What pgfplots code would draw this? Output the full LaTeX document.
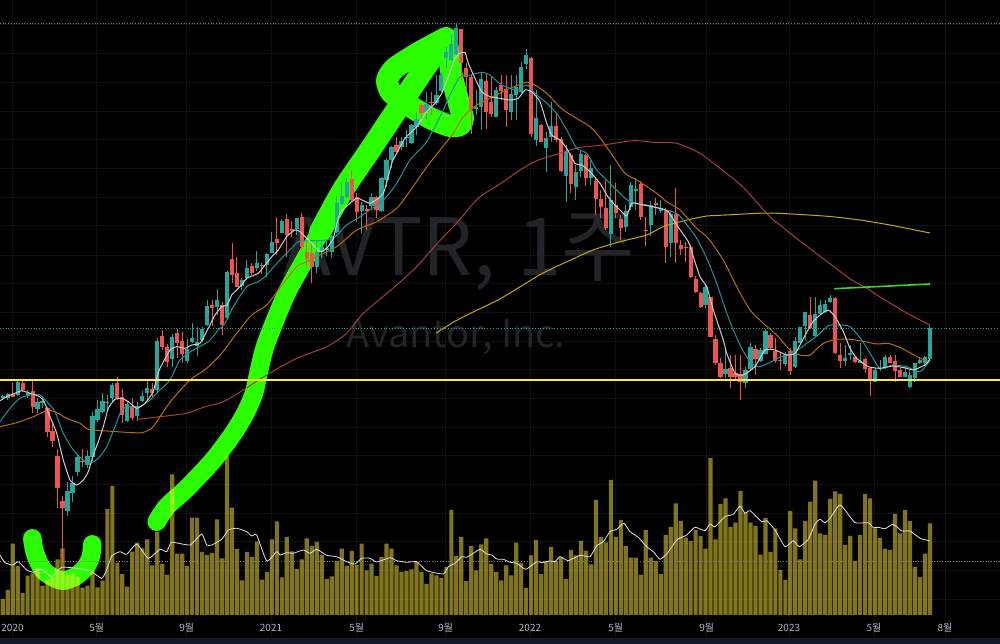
\documentclass[border=0pt]{standalone}
\usepackage{pgfplots}
\usepackage{pgfplotstable}
\usepackage{fontspec}
\pgfplotsset{compat=1.18}
\setmainfont{Noto Sans CJK KR}
\definecolor{upc}{HTML}{26A69A}
\definecolor{dnc}{HTML}{EF5350}
\definecolor{grn}{HTML}{2CFF00}
\definecolor{volc}{HTML}{FFEB3B}
\definecolor{gridc}{HTML}{101010}
\definecolor{mawhite}{HTML}{CFCFCF}
\definecolor{mateal}{HTML}{23919A}
\definecolor{maorange}{HTML}{B86E00}
\definecolor{mared}{HTML}{A63C3C}
\definecolor{mayellow}{HTML}{BFA81F}
\definecolor{wm}{HTML}{232428}
\definecolor{strip}{HTML}{131A26}
\definecolor{ticktxt}{HTML}{B2B5BE}
\pgfplotstableread[row sep=\\]{
i top bot hi lo\\
0 396 398.3 395 399\\ 1 394 398 392.7 400\\ 3 382 395 380 396\\ 5 392.7 396 390 398.3\\
7 401.7 409 398.3 413.3\\ 8 400.7 402.7 396.7 408.3\\ 13 491 511 481.7 515.7\\ 14 482.7 492.7 476 501.7\\
15 456.7 472.3 455 476\\ 17 456 465 450 468.3\\ 18 416 457.3 411.7 460.7\\ 19 409.3 420 400 421.7\\
20 401 412.3 392.7 413.3\\ 21 401.7 402.3 395 411.7\\ 22 385 398.3 382.7 401.7\\ 25 404.3 420.7 401.7 421.7\\
27 406 416 401.7 420.7\\ 28 396 400.7 390.7 401.7\\ 29 388.3 393.3 380 401.7\\ 31 340.7 390 338.3 391.7\\
34 337.3 359.3 334.3 366.7\\ 37 349.3 361 339.3 363.3\\ 38 338.3 341.7 322.7 343.3\\ 39 341.7 346 326.7 356\\
40 329 340 326.7 341.7\\ 41 306 325 300 326\\ 43 300 306.7 289.3 315\\ 45 271.7 318.3 270.7 320\\
48 280 286 278.3 290\\ 49 268.3 278.3 260 280\\ 51 262.7 268.3 251 271\\ 53 254.3 265 252.7 276.7\\
54 241.7 252.7 232.3 253.3\\ 56 220.7 232.7 219.3 233.3\\ 59 218 229.3 217.7 235\\ 63 252 267 241.7 273.3\\
64 247 252 240 258\\ 65 248 250 241 256\\ 66 236 252 235 258\\ 67 203 232.5 196 233.5\\
68 196 204 183 205\\ 69 181.7 196.7 178 198\\ 72 205 210.7 201.7 233\\ 74 196.7 206 193 210\\
76 178 210.7 176.7 211.7\\ 77 160 180 158 186.7\\ 78 146.7 160 146 168\\ 80 140.7 147.3 136.7 150\\
81 136.7 138 130 146.7\\ 82 125 142.7 124 144\\ 83 118.7 127.3 111.7 135\\ 85 104.3 111.7 91.7 119\\
87 95 103.3 75 105\\ 88 75 90.7 71.7 91.7\\ 89 51.7 58.3 46.7 68\\ 90 44 60 35 60.7\\
91 28.3 54 23.3 55\\ 95 107.3 109.3 90 115\\ 96 79 106.7 73 130\\ 99 90 116.7 86.7 117\\
102 94 111.7 75 120\\ 103 86.7 95.5 75 120\\ 104 67 92.5 61.7 93.3\\ 105 55 64.3 49.3 69.3\\
107 117.7 140 90 146\\ 109 137.7 148.3 131.7 171.7\\ 110 126 136.7 101.7 142\\ 113 151 176 145 201.7\\
115 171.7 186.7 165 200\\ 116 154 170.7 150 176.7\\ 118 168 178.5 158 185\\ 122 200 234 165 246.7\\
125 210.7 226.7 205 231.7\\ 126 185 206.7 181.7 210\\ 127 189.3 190.7 178 210\\ 130 205 225 200.7 236\\
132 207.7 210.7 200 213\\ 134 214 242.7 211.7 257\\ 141 286.7 305 285 308.3\\ 145 369 374 350 378\\
149 370 382.7 366.7 388\\ 150 347.3 369 343 370\\ 152 350 361 348 362.3\\ 153 331 354 329 354.3\\
157 355 364 351.7 366\\ 159 340.7 367.3 337 368.3\\ 160 327.3 342.7 326.7 343.5\\ 161 312.3 325.7 311.7 340\\
163 314 336 296.7 337\\ 164 305.3 314 300 315\\ 165 304 312.3 300 313.3\\ 166 297.7 301.7 295 303.3\\
169 358 360.7 345 366\\ 170 353 354.7 345 360\\ 172 361 362.7 342.7 363.3\\ 175 370 381.7 368.3 382\\
176 368 369.3 360 370.7\\ 177 357.3 368.3 355 369.3\\ 181 371.7 376.7 367.3 377.3\\ 182 375 386.7 370 387.7\\
183 363.3 377.7 362.7 381.7\\ 184 360 363.3 357.3 364\\ 185 357.3 363.3 356 365\\ 186 328.3 359.3 324.3 360\\
}\upw
\pgfplotstableread[row sep=\\]{
i top bot hi lo\\
2 394 396.7 383.3 397.3\\ 4 383.3 390 379.3 391.7\\ 6 391 406.7 380 413.3\\ 9 408.3 431.7 407.3 436.7\\
10 431 441 423.3 446.7\\ 11 455.7 487.7 449.3 508\\ 12 501 507.7 496 563\\ 16 460.7 461.3 449.3 466.7\\
23 383.3 398.3 377.3 400\\ 24 397.3 415 389.3 422.7\\ 26 406 417.7 398.3 420\\ 30 388.7 393.3 382.7 398.3\\
32 336 347.3 330 350\\ 33 346.7 361.7 344 366.7\\ 35 333.3 343.3 329.3 358.3\\ 36 340.7 354 331.7 362.7\\
42 304.7 308 300 326\\ 44 304.7 325 301.7 335\\ 46 259.3 275 242.7 283.3\\ 47 272.7 286.7 257.3 287.3\\
50 266 272.7 263.3 275\\ 52 265.5 266.5 263.3 274\\ 55 239 243.3 217.3 255\\ 57 219 235 214 256.7\\
58 229 231 220.7 236.7\\ 60 217.3 247.3 212.7 250\\ 61 252.3 259.3 241.7 268.3\\ 62 252.7 267 243.3 283.3\\
70 179 200 170 201.7\\ 71 197 211.7 193 221.7\\ 73 209 211 205 230\\ 75 196.7 210 196 218\\
79 145 152 137 153\\ 84 105 113.3 103 120\\ 86 102 103.3 91.7 115\\ 92 29.3 63.3 29 80\\
93 68.3 76.7 63 90.7\\ 94 76.7 109 75 134\\ 97 81.3 111.7 73 129\\ 98 102.3 114 76.7 116.7\\
100 85 91 75 100\\ 101 89 110 75 127\\ 106 57.7 134.3 57.3 136.7\\ 108 125 141.7 124 142\\
111 126 140 112.7 141.7\\ 112 139.3 171 136.7 172\\ 114 155 184 153 193\\ 117 155 178 154 185.7\\
119 181 199 178 215\\ 120 199 207 190 218\\ 121 208 227.7 180 230\\ 123 205 213.3 183 218\\
124 219 228 215 240\\ 128 184 216.7 180.7 220\\ 129 230 231 217 246\\ 131 202.7 205.3 198 215\\
133 210.7 247.3 208 263\\ 135 214 242.7 188 263\\ 136 245 249 240 255\\ 137 247.3 248.3 241.7 261.7\\
138 247.3 277.3 245 278\\ 139 279.3 291.7 276 292.7\\ 140 293.3 307.3 291.7 308.3\\ 142 297.3 336.7 296.7 337\\
143 339 363.3 335 365\\ 144 362.7 377.3 358.3 378.3\\ 146 368.3 377.3 355 388\\ 147 372.7 376.7 355 380\\
148 374 382.3 355 400\\ 151 349 359 345 375\\ 154 335 348.3 333 350\\ 155 350.7 361 338 363.3\\
156 360 360.7 353 370\\ 158 350.7 370.7 348 375\\ 162 314.7 328.3 296.7 328.8\\ 167 297.7 353.3 297.2 354\\
168 355 361 343 368.3\\ 171 356.7 361.7 355.7 362.7\\ 173 359.3 369 358 373.3\\ 174 368.3 379.3 366.7 396\\
178 356.7 362.7 355 363.3\\ 179 361 370.7 355 381.7\\ 180 370 376.7 368.3 377.3\\
}\dnw
\pgfplotstableread[row sep=\\]{
i top\\
0 599\\ 1 590\\ 2 543.7\\ 3 566\\ 4 593\\ 5 575.7\\ 6 573.3\\ 7 568.3\\ 8 585.7\\ 9 580\\ 10 576.7\\ 11 559.3\\ 12 548.3\\ 13 575\\ 14 573.3\\ 15 576.7\\
16 587.7\\ 17 585.7\\ 18 570.7\\ 19 587.3\\ 20 580.7\\ 21 509\\ 22 486\\ 23 562.7\\ 24 574\\ 25 586.7\\ 26 551.7\\ 27 542.7\\ 28 548.3\\ 29 539.3\\ 30 565.3\\
31 531.7\\ 32 564\\ 33 574.7\\ 34 474.3\\ 35 553.7\\ 36 553.7\\ 37 566\\ 38 517.7\\ 39 517.7\\ 40 552\\ 41 555\\ 42 553\\ 43 519.3\\ 44 558.3\\ 45 456.3\\
46 507.7\\ 47 549\\ 48 580.3\\ 49 552\\ 50 557\\ 51 541.7\\ 52 579.7\\ 53 572\\ 54 539.3\\ 55 521.3\\ 56 577.3\\ 57 537\\ 58 551.3\\ 59 569\\ 60 559.3\\
61 538.3\\ 62 546\\ 63 542\\ 64 555\\ 65 579\\ 66 576.3\\ 67 561\\ 68 548.7\\ 69 566\\ 70 551\\ 71 565\\ 72 543.7\\ 73 570.3\\ 74 563.7\\ 75 576\\
76 557\\ 77 543.7\\ 78 548.7\\ 79 565.3\\ 80 572\\ 81 571\\ 82 569.3\\ 83 562\\ 84 572\\ 85 584\\ 86 573.3\\ 87 575.3\\ 88 578\\ 89 567\\ 90 510\\
91 556\\ 92 537\\ 93 581\\ 94 546\\ 95 570.3\\ 96 544.3\\ 97 538.3\\ 98 563.7\\ 99 572\\ 100 580.3\\ 101 565.3\\ 102 575.3\\ 103 542.7\\ 104 563\\ 105 588\\
106 555.3\\ 107 540\\ 108 574\\ 109 561\\ 110 547\\ 111 561\\ 112 557\\ 113 579\\ 114 550\\ 115 555.3\\ 116 541\\ 117 551\\ 118 564.3\\ 119 500\\ 120 537\\
121 542.3\\ 122 480\\ 123 537\\ 124 520\\ 125 546\\ 126 557.7\\ 127 557.7\\ 128 574.7\\ 129 530\\ 130 557.7\\ 131 561\\ 132 574\\ 133 535\\ 134 527\\ 135 503.3\\
136 521\\ 137 537.7\\ 138 541\\ 139 530\\ 140 536\\ 141 548.7\\ 142 458\\ 143 539.3\\ 144 504\\ 145 498.3\\ 146 527\\ 147 522.7\\ 148 491\\ 149 512.3\\ 150 522.7\\
151 526\\ 152 554.7\\ 153 518\\ 154 552\\ 155 528.3\\ 156 570\\ 157 580\\ 158 511\\ 159 528.3\\ 160 559.3\\ 161 521\\ 162 501.7\\ 163 480.7\\ 164 533.3\\ 165 535\\
166 499\\ 167 491.3\\ 168 494\\ 169 545\\ 170 536\\ 171 561\\ 172 535\\ 173 494\\ 174 498.3\\ 175 528.3\\ 176 538\\ 177 548.7\\ 178 550\\ 179 514\\ 180 533.3\\
181 510\\ 182 521\\ 183 567\\ 184 577\\ 185 553.7\\ 186 523.3\\
}\vols
\pgfplotstableread[row sep=\\]{
x y\\
0 555\\ 5 562.7\\ 12.7 565\\ 18.3 561.7\\ 26.7 570\\ 33.3 572.3\\ 41.7 569.3\\ 51.7 576.7\\ 61.7 567.3\\ 76.7 568.3\\ 90 570.7\\ 101.7 578.3\\ 106.7 570\\ 111.7 556\\ 120 551.7\\ 126.7 554.3\\ 136.7 544\\ 148.3 558.3\\ 160 549.3\\ 166.7 551.7\\ 171.7 542.3\\ 190 545\\ 201.7 534\\ 206.7 545\\ 211.7 545\\ 221.7 539.3\\ 228.3 530\\ 236.7 528.3\\ 246.7 531.7\\ 251.7 536\\ 256.7 535\\ 266.7 561\\ 276.7 551.7\\ 280 555\\ 286.7 552.7\\ 293.3 553.3\\ 303.3 550\\ 310 553.3\\ 316.7 549.3\\ 326.7 555.3\\ 336.7 556.7\\ 346.7 561.7\\ 355 564\\ 361.7 558.3\\ 370 558.3\\ 376.7 562\\ 390 557.7\\ 396.7 560.7\\ 406.7 562.3\\ 416.7 561.7\\ 426.7 570.7\\ 443.3 574\\ 448.3 566.7\\ 455 563.3\\ 461.7 556.7\\ 466.7 557.3\\ 473.3 553.3\\ 480 549.3\\ 486.7 554\\ 491.7 555\\ 496.7 559\\ 503.3 559.3\\ 510 562.3\\ 516.7 563.3\\ 525.7 569.3\\ 536.7 561.7\\ 541.7 562.7\\ 550 561\\ 555 561.7\\ 560 556.7\\ 568.3 560.7\\ 580 555.3\\ 590 556.7\\ 596.7 545.7\\ 603.3 541.7\\ 610 531.7\\ 616.7 529.3\\ 624 523.3\\ 630 531.7\\ 638.3 537.3\\ 646.7 546.7\\ 653.3 551.7\\ 660 559.3\\ 667.3 553.3\\ 676.7 540\\ 686.7 535\\ 695 527.3\\ 705 530.7\\ 710 524\\ 715 526.7\\ 725 516.7\\ 733.3 514.3\\ 740 506\\ 745 513.3\\ 750 510.7\\ 761.7 521.7\\ 766.7 520.7\\ 775 530\\ 785 546.7\\ 793.3 540.7\\ 799.3 546.7\\ 808.3 539.3\\ 815 524\\ 820 519.3\\ 825 522.7\\ 830 518.3\\ 839.3 505\\ 845 510\\ 855 522.7\\ 868.3 522.7\\ 873.3 527.7\\ 878.3 527.3\\ 885 528.7\\ 893.3 524.3\\ 901.7 531\\ 910 531\\ 920 538.3\\ 929.3 540.7\\
}\volma
\begin{document}
\begin{tikzpicture}
\useasboundingbox (0,0) rectangle (1000pt,644pt);
\fill[black] (0,0) rectangle (1000pt,644pt);
% layer 1: grid, watermark, hand-drawn green strokes
\begin{axis}[at={(0,0)},anchor=south west,width=1000pt,height=644pt,scale only axis,
  xmin=0,xmax=1000,ymin=0,ymax=644,y dir=reverse,
  axis line style={draw=none},major tick length=0,
  xtick={12.5,96.7,186.7,271,356.7,445.7,530,615.7,706.7,789,874,945},
  ytick={25,54,82.7,111.4,140,168.8,197.5,226,255,283.6,312,341,369.7,398.4,427,455.8,484.5,513.2,541.9,570.6,599},
  xticklabels={},yticklabels={},
  grid=major,major grid style={gridc,line width=1pt}]
\node[wm,font=\fontsize{79pt}{79pt}\selectfont,anchor=base west,inner sep=0pt] at (axis cs:283,275) {AVTR,};
\node[wm,font=\fontsize{80pt}{80pt}\selectfont,anchor=base west,inner sep=0pt] at (axis cs:517,275) {1주};
\node[wm,font=\fontsize{38pt}{38pt}\selectfont,anchor=base,inner sep=0pt] at (axis cs:456,347) {Avantor, Inc.};
\addplot[grn,line width=18.5pt,line cap=round,line join=round,smooth,tension=0.5] coordinates {
(32.3,538.3)(35,553)(43,570)(55,578.3)(63.3,580.7)(75,576.7)(85,568)(90.7,557)(92.3,544.3)};
\addplot[grn,line width=18.5pt,line cap=round,line join=round,smooth,tension=0.5] coordinates {
(156.7,521.7)(166.7,506.7)(186.7,488.3)(213.3,460)(233.3,433.3)(246,412)(254,393)(258,375)(264,350)(272,328)(286.7,293)(303,263)(326.7,220)};
\addplot[grn,line width=22pt,line cap=round,line join=round,smooth,tension=0.5] coordinates {
(320,232)(343,190)(370,150)(398,108)(420,75)(444,40)};
\addplot[grn,line width=22pt,line cap=round,line join=round,smooth,tension=0.4] coordinates {
(446,38)(420,52)(395,68)(387,80)(391,92)(405,103)(430,118)(450,126)(460,125)(463,118)(458,100)(452,77)(449,55)(446,38)};
\end{axis}
% layer 2: volume
\begin{axis}[at={(0,0)},anchor=south west,width=1000pt,height=644pt,scale only axis,
  xmin=0,xmax=1000,ymin=-29,ymax=615,
  axis line style={draw=none},major tick length=0,ytick=\empty,
  xtick={12.5,96.7,186.7,271,356.7,445.7,530,615.7,706.7,789,874,945},
  xticklabels={2020,5월,9월,2021,5월,9월,2022,5월,9월,2023,5월,8월},
  xticklabel style={anchor=center,yshift=16.5pt,font=\fontsize{10pt}{10pt}\selectfont,text=ticktxt}]
\addplot[ybar,bar width=4.2pt,fill=volc,fill opacity=0.5,draw=none] table[x expr=2.7+4.985*\thisrow{i},y expr=615-\thisrow{top}] {\vols};
\addplot[gray,dotted,line width=0.7pt] coordinates {(0,53.3)(1000,53.3)};
\addplot[white!88!black,line width=0.8pt,smooth,tension=0.3] table[x=x,y expr=615-\thisrow{y}] {\volma};
\end{axis}
% layer 3: candles, moving averages, lines
\begin{axis}[at={(0,0)},anchor=south west,width=1000pt,height=644pt,scale only axis,
  xmin=0,xmax=1000,ymin=0,ymax=644,y dir=reverse,hide axis]
\addplot[gray,dotted,line width=0.7pt] coordinates {(0,23)(1000,23)};
\addplot[upc,dotted,line width=0.8pt] coordinates {(0,328.5)(1000,328.5)};
\addplot[draw=none,mark=none,error bars/.cd,y dir=both,y explicit,error mark=none,error bar style={draw=upc,line width=1pt}]
  table[x expr=2.7+4.985*\thisrow{i},y=top,y error plus expr=\thisrow{lo}-\thisrow{top},y error minus expr=\thisrow{top}-\thisrow{hi}] {\upw};
\addplot[draw=none,mark=none,error bars/.cd,y dir=both,y explicit,error mark=none,error bar style={draw=upc,line width=4.2pt}]
  table[x expr=2.7+4.985*\thisrow{i},y=top,y error plus expr=\thisrow{bot}-\thisrow{top},y error minus expr=0] {\upw};
\addplot[draw=none,mark=none,error bars/.cd,y dir=both,y explicit,error mark=none,error bar style={draw=dnc,line width=1pt}]
  table[x expr=2.7+4.985*\thisrow{i},y=top,y error plus expr=\thisrow{lo}-\thisrow{top},y error minus expr=\thisrow{top}-\thisrow{hi}] {\dnw};
\addplot[draw=none,mark=none,error bars/.cd,y dir=both,y explicit,error mark=none,error bar style={draw=dnc,line width=4.2pt}]
  table[x expr=2.7+4.985*\thisrow{i},y=top,y error plus expr=\thisrow{bot}-\thisrow{top},y error minus expr=0] {\dnw};
\addplot[mayellow,line width=1pt,smooth,tension=0.4] coordinates {(436,333.3)(452,323)(469,314)(498,300)(523,285)(543,273)(567,261.7)(593,250)(620,241.7)(646.7,235)(663,226.7)(687,220)(707,216)(720,215.3)(766.7,213)(800,214.5)(830,216.5)(860,220)(890,225)(915,230)(930,233)};
\addplot[mared,line width=1pt,smooth,tension=0.4] coordinates {(137.7,419.3)(155,417.3)(186.7,413.3)(203.3,407.3)(223.3,401.7)(243.3,390)(266.7,375)(296.7,358.3)(326.7,346.7)(346.7,333.3)(363.3,313.3)(396.7,285)(416.7,266.7)(436.7,244)(456.7,223)(478.3,198.3)(503.3,181.7)(520,170)(536.7,160.7)(560,153.3)(578.3,147.7)(603.3,145)(633.3,140.7)(653.3,142.3)(676.7,143.3)(700,153.3)(720,168.3)(743,187)(770,217)(780,225)(800,241)(825,260)(851.7,280)(865,287)(880,297)(906.7,313)(930,325)};
\addplot[maorange,line width=1pt,smooth,tension=0.4] coordinates {(0,426.7)(16.7,422.7)(33.3,416.7)(46.7,410.7)(55,411.7)(66.7,418.3)(80,423.3)(88.3,429.3)(106.7,431)(126.7,432.3)(141.7,432.7)(151.7,428.3)(160,416.7)(171.7,400)(190,380)(206.7,368.3)(221.7,353.3)(236.7,333.3)(251.7,315)(266.7,305)(283.3,283.3)(296.7,266.7)(306.7,261.7)(320,255)(336.7,246.7)(356.7,230)(376.7,221.7)(396.7,208.3)(410,191)(426.7,167)(440,150)(453.3,133.3)(463.3,116.7)(476.7,105)(490,98.3)(510,88.3)(526.7,82.3)(533.3,84)(546.7,93.3)(563.3,110)(590,126.7)(601.7,140)(613.3,156.7)(625,173.3)(636.7,180)(656.7,193.3)(666.7,201.7)(680,210)(696.7,228.3)(708.3,238.3)(723.3,260)(736.7,286.7)(750,310)(763.3,323.3)(776.7,335)(790,350)(800,355)(810,355)(823.3,343.3)(836.7,339.3)(850,339.3)(861.7,341)(876.7,344)(888.3,343.3)(901.7,348.3)(920,358.3)(930,361.7)};
\addplot[mateal,line width=1pt,smooth,tension=0.4] coordinates {(0,421.7)(10,408.3)(20,398.3)(30,395)(40,395)(48.3,403.3)(55,411.7)(63.3,433.3)(73.3,450)(83.3,460)(90,463.3)(98.3,458.3)(106.7,446.7)(115,426.7)(121.7,410)(128.3,406.7)(138.3,407.7)(150,400)(160,390)(170,380)(180,360)(193.3,350)(208.3,341.7)(218.3,330)(225,323.3)(233.3,306.7)(246.7,286.7)(258.3,281.7)(266.7,275)(278.3,261.7)(290,250)(298.3,241.7)(310,240.7)(320,240.7)(333.3,238.3)(346.7,225)(360,216.7)(383.3,200)(396.7,183.3)(410,160)(426.7,141.7)(443.3,110)(450,95)(460,76.7)(470,75)(481.7,72.3)(490,75)(501.7,85)(516.7,90)(526.7,85)(535,93.3)(546.7,103.3)(556.7,113.3)(566.7,130)(576.7,148.3)(586.7,153.3)(596.7,170)(610,183.3)(620,193.3)(630,201.7)(646.7,205)(658.3,208.3)(676.7,213.3)(688.3,226.7)(696.7,238.3)(706.7,258.3)(716.7,283.3)(725,308.3)(733.3,330)(741.7,348.3)(750,361.7)(758.3,366.7)(768.3,363.3)(780,357)(795,351.7)(806.7,343.3)(818.3,335)(828.3,325.7)(838.3,325)(850,326.7)(861.7,340)(870,353.3)(880,368.3)(893.3,365)(906.7,366.7)(920,371.7)(930,360)};
\addplot[mawhite,line width=1pt,smooth,tension=0.3] coordinates {(0,400.7)(6.7,396.7)(13.3,394)(21.7,390.7)(30,393.3)(38.3,396)(43.3,400)(50,416.7)(56.7,433.3)(63.3,460)(70,480)(76.7,485)(83.3,480)(88.3,471.7)(93.3,455)(98.3,441.7)(103.3,426.7)(108.3,408.3)(115,399.3)(121.7,398.3)(128.3,401.7)(136.7,408.3)(145,403.3)(153,392)(157,377)(160,368.3)(170,350)(176.7,346.7)(185,348.3)(191.7,345)(200,343.3)(208.3,328.3)(215,315)(221.7,306.7)(227.3,305)(231.7,295)(241.7,285)(246.7,278.3)(258.3,273.3)(265,265)(273.3,255)(278.3,250)(286.7,236.7)(295,230)(300,231.7)(310,241.7)(320,251.7)(326.7,248.3)(333.3,238.3)(340,213.3)(356.7,198.3)(370,203.3)(383.3,193.3)(391.7,163.3)(396.7,153.3)(405,138.3)(416.7,126.7)(426.7,111.7)(435,103.3)(441.7,93.3)(448.3,76.7)(455,58.3)(460,53.3)(465,52.3)(468.3,63.3)(475,78.3)(481.7,91.7)(490,96.7)(500,98.3)(510,100)(518.3,98.3)(525,90)(531.7,91.7)(540,101.7)(546.7,123.3)(551.7,135)(560,140)(566.7,148.3)(575,163.3)(581.7,165)(590,171.7)(600,183.3)(606.7,195)(613.3,203.3)(620,210)(626.7,216)(631.7,203.3)(643.3,205)(660,208.3)(668.3,211.7)(676.7,225)(688.3,241.7)(693.3,256.7)(700,276.7)(706.7,286.7)(713.3,310)(723.3,340)(726.7,353.3)(735,373.3)(743.3,375)(755,366.7)(765,350)(775,350)(786.7,355)(795,353.3)(801.7,341.7)(811.7,323.3)(820,315)(828.3,310)(835,316.7)(843.3,331.7)(850,348.3)(856.7,358.3)(868.3,366.7)(880,368.3)(893.3,366)(906.7,368.3)(913.3,370)(925,365)(930,359.3)};
\addplot[color={rgb,255:red,58;green,214;blue,32},line width=1.6pt] coordinates {(834,288.7)(930,284)};
\addplot[color={rgb,255:red,255;green,235;blue,59},line width=2pt] coordinates {(0,380)(1000,380)};
\end{axis}
\fill[strip] (0,0) rectangle (1000pt,6pt);
\end{tikzpicture}
\end{document}
